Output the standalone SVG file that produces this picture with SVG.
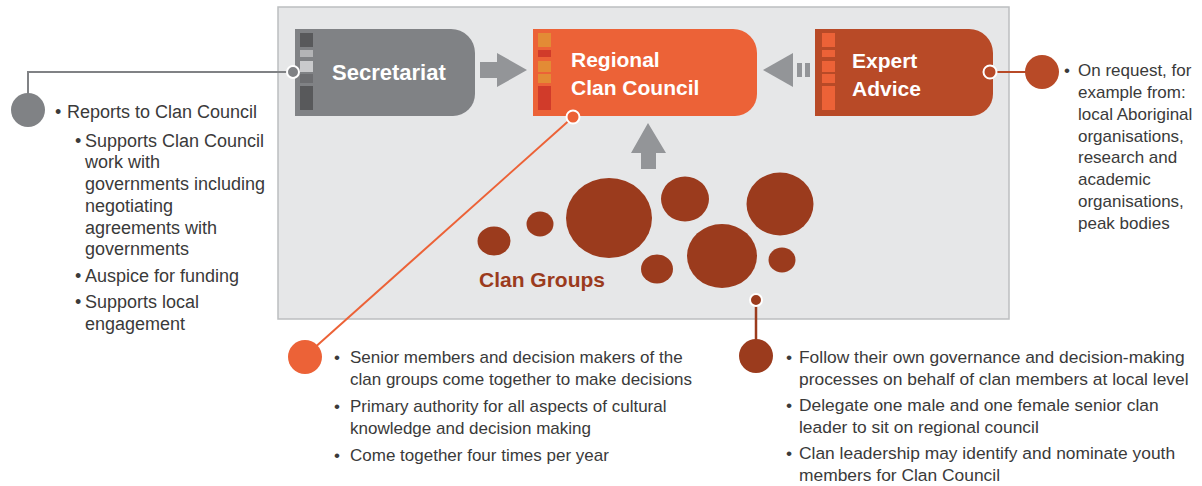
<svg xmlns="http://www.w3.org/2000/svg" width="1202" height="486" viewBox="0 0 1202 486">
<style>
.t{font-family:"Liberation Sans",Arial,sans-serif;font-size:17px;fill:#3a3a3a}
.l{font-size:18px}
.r{font-size:17.4px}
.h{font-family:"Liberation Sans",Arial,sans-serif;font-weight:bold;fill:#ffffff}
.blob{fill:#9b3b1d}
.arr{fill:#939598}
</style>
<rect width="1202" height="486" fill="#ffffff"/>
<g id="panel">
<rect x="278" y="7" width="731" height="312" fill="#e6e7e8" stroke="#bcbec0" stroke-width="1.5"/>
</g>
<g id="connectors">
<path class="arr" d="M480,62 H497 V53 L527,70 L497,87 V78 H480 Z"/>
<path class="arr" d="M763,70 L793,53 V87 Z"/>
<rect class="arr" x="797" y="63" width="5" height="14"/>
<rect class="arr" x="805" y="63" width="5" height="14"/>
<path class="arr" d="M648,123 L666,153 H656 V169 H641 V153 H631 Z"/>
<polyline points="293,72 28,72 28,100" fill="none" stroke="#808285" stroke-width="2"/>
<line x1="990" y1="72" x2="1030" y2="72" stroke="#b84a27" stroke-width="2"/>
<line x1="573" y1="117" x2="312" y2="350" stroke="#ec6237" stroke-width="2"/>
<line x1="756" y1="300" x2="756" y2="345" stroke="#9b3b1d" stroke-width="2.5"/>
</g>
<g id="secretariat">
<path d="M295,29 H451 A24,24 0 0 1 475,53 V94 A22,22 0 0 1 453,116 H295 Z" fill="#808285"/>
<rect x="300" y="33" width="13" height="14" fill="#58595b"/>
<rect x="300" y="50" width="13" height="7" fill="#b3b4b6"/>
<rect x="300" y="61" width="13" height="11" fill="#c9cacc"/>
<rect x="300" y="74" width="13" height="9" fill="#6d6e71"/>
<rect x="300" y="86" width="13" height="24" fill="#58595b"/>
<text class="h" x="332" y="80" font-size="22">Secretariat</text>
<circle cx="293" cy="72" r="6" fill="#808285" stroke="#ffffff" stroke-width="2"/>
</g>
<g id="regional-clan-council">
<path d="M533,29 H733 A24,24 0 0 1 757,53 V94 A22,22 0 0 1 735,116 H533 Z" fill="#ec6237"/>
<rect x="538" y="33" width="13" height="14" fill="#e38b35"/>
<rect x="538" y="50" width="13" height="7" fill="#d13b2a"/>
<rect x="538" y="61" width="13" height="11" fill="#e38b35"/>
<rect x="538" y="74" width="13" height="9" fill="#e38b35"/>
<rect x="538" y="86" width="13" height="24" fill="#d13b2a"/>
<text class="h" x="571" y="67" font-size="21">Regional</text>
<text class="h" x="571" y="95" font-size="21">Clan Council</text>
<circle cx="573" cy="117" r="6.5" fill="#ec6237" stroke="#ffffff" stroke-width="2"/>
</g>
<g id="expert-advice">
<path d="M815,29 H969 A24,24 0 0 1 993,53 V94 A22,22 0 0 1 971,116 H815 Z" fill="#b84a27"/>
<rect x="822" y="33" width="13" height="14" fill="#ec6237"/>
<rect x="822" y="50" width="13" height="7" fill="#ec6237"/>
<rect x="822" y="61" width="13" height="11" fill="#ec6237"/>
<rect x="822" y="74" width="13" height="9" fill="#ec6237"/>
<rect x="822" y="86" width="13" height="24" fill="#ec6237"/>
<text class="h" x="852" y="68" font-size="21">Expert</text>
<text class="h" x="852" y="96" font-size="21">Advice</text>
<circle cx="990" cy="72" r="6.5" fill="#b84a27" stroke="#ffffff" stroke-width="2"/>
</g>
<g id="clan-groups">
<ellipse class="blob" cx="494" cy="241" rx="16.5" ry="14.5"/>
<ellipse class="blob" cx="540" cy="224" rx="13.5" ry="12.5"/>
<ellipse class="blob" cx="609" cy="218" rx="43" ry="40"/>
<ellipse class="blob" cx="685" cy="199" rx="24" ry="22.5"/>
<ellipse class="blob" cx="657" cy="269" rx="16" ry="14.5"/>
<ellipse class="blob" cx="722" cy="256" rx="35" ry="32"/>
<ellipse class="blob" cx="780" cy="204" rx="33.5" ry="31.5"/>
<ellipse class="blob" cx="782" cy="260" rx="13.5" ry="12.5"/>
<text x="479" y="287" font-family="Liberation Sans, Arial, sans-serif" font-weight="bold" font-size="21" fill="#9b3b1d">Clan Groups</text>
<circle cx="756" cy="300" r="6" fill="#9b3b1d" stroke="#ffffff" stroke-width="2"/>
</g>
<g id="secretariat-notes">
<circle cx="28" cy="110" r="17" fill="#808285"/>
<text class="t l" x="55" y="118">•</text><text class="t l" x="67" y="118">Reports to Clan Council</text>
<text class="t l" x="75" y="147">•</text><text class="t l" x="85" y="147">Supports Clan Council</text>
<text class="t l" x="85" y="168">work with</text>
<text class="t l" x="85" y="190">governments including</text>
<text class="t l" x="85" y="212">negotiating</text>
<text class="t l" x="85" y="234">agreements with</text>
<text class="t l" x="85" y="255">governments</text>
<text class="t l" x="75" y="282">•</text><text class="t l" x="85" y="282">Auspice for funding</text>
<text class="t l" x="75" y="308">•</text><text class="t l" x="85" y="308">Supports local</text>
<text class="t l" x="85" y="330">engagement</text>
</g>
<g id="expert-notes">
<circle cx="1042" cy="72" r="17" fill="#b84a27"/>
<text class="t" x="1064" y="76">•</text><text class="t" x="1078" y="76">On request, for</text>
<text class="t" x="1078" y="98">example from:</text>
<text class="t" x="1078" y="120">local Aboriginal</text>
<text class="t" x="1078" y="142">organisations,</text>
<text class="t" x="1078" y="163">research and</text>
<text class="t" x="1078" y="185">academic</text>
<text class="t" x="1078" y="207">organisations,</text>
<text class="t" x="1078" y="229">peak bodies</text>
</g>
<g id="council-notes">
<circle cx="305" cy="357" r="17" fill="#ec6237"/>
<text class="t" x="334" y="363">•</text><text class="t" x="350" y="363">Senior members and decision makers of the</text>
<text class="t" x="350" y="385">clan groups come together to make decisions</text>
<text class="t" x="334" y="412">•</text><text class="t" x="350" y="412">Primary authority for all aspects of cultural</text>
<text class="t" x="350" y="434">knowledge and decision making</text>
<text class="t" x="334" y="461">•</text><text class="t" x="350" y="461">Come together four times per year</text>
</g>
<g id="clan-notes">
<circle cx="756" cy="356" r="17" fill="#9b3b1d"/>
<text class="t r" x="786" y="363">•</text><text class="t r" x="799" y="363">Follow their own governance and decision-making</text>
<text class="t r" x="799" y="385">processes on behalf of clan members at local level</text>
<text class="t r" x="786" y="411">•</text><text class="t r" x="799" y="411">Delegate one male and one female senior clan</text>
<text class="t r" x="799" y="433">leader to sit on regional council</text>
<text class="t r" x="786" y="459">•</text><text class="t r" x="799" y="459">Clan leadership may identify and nominate youth</text>
<text class="t r" x="799" y="481">members for Clan Council</text>
</g>
</svg>
